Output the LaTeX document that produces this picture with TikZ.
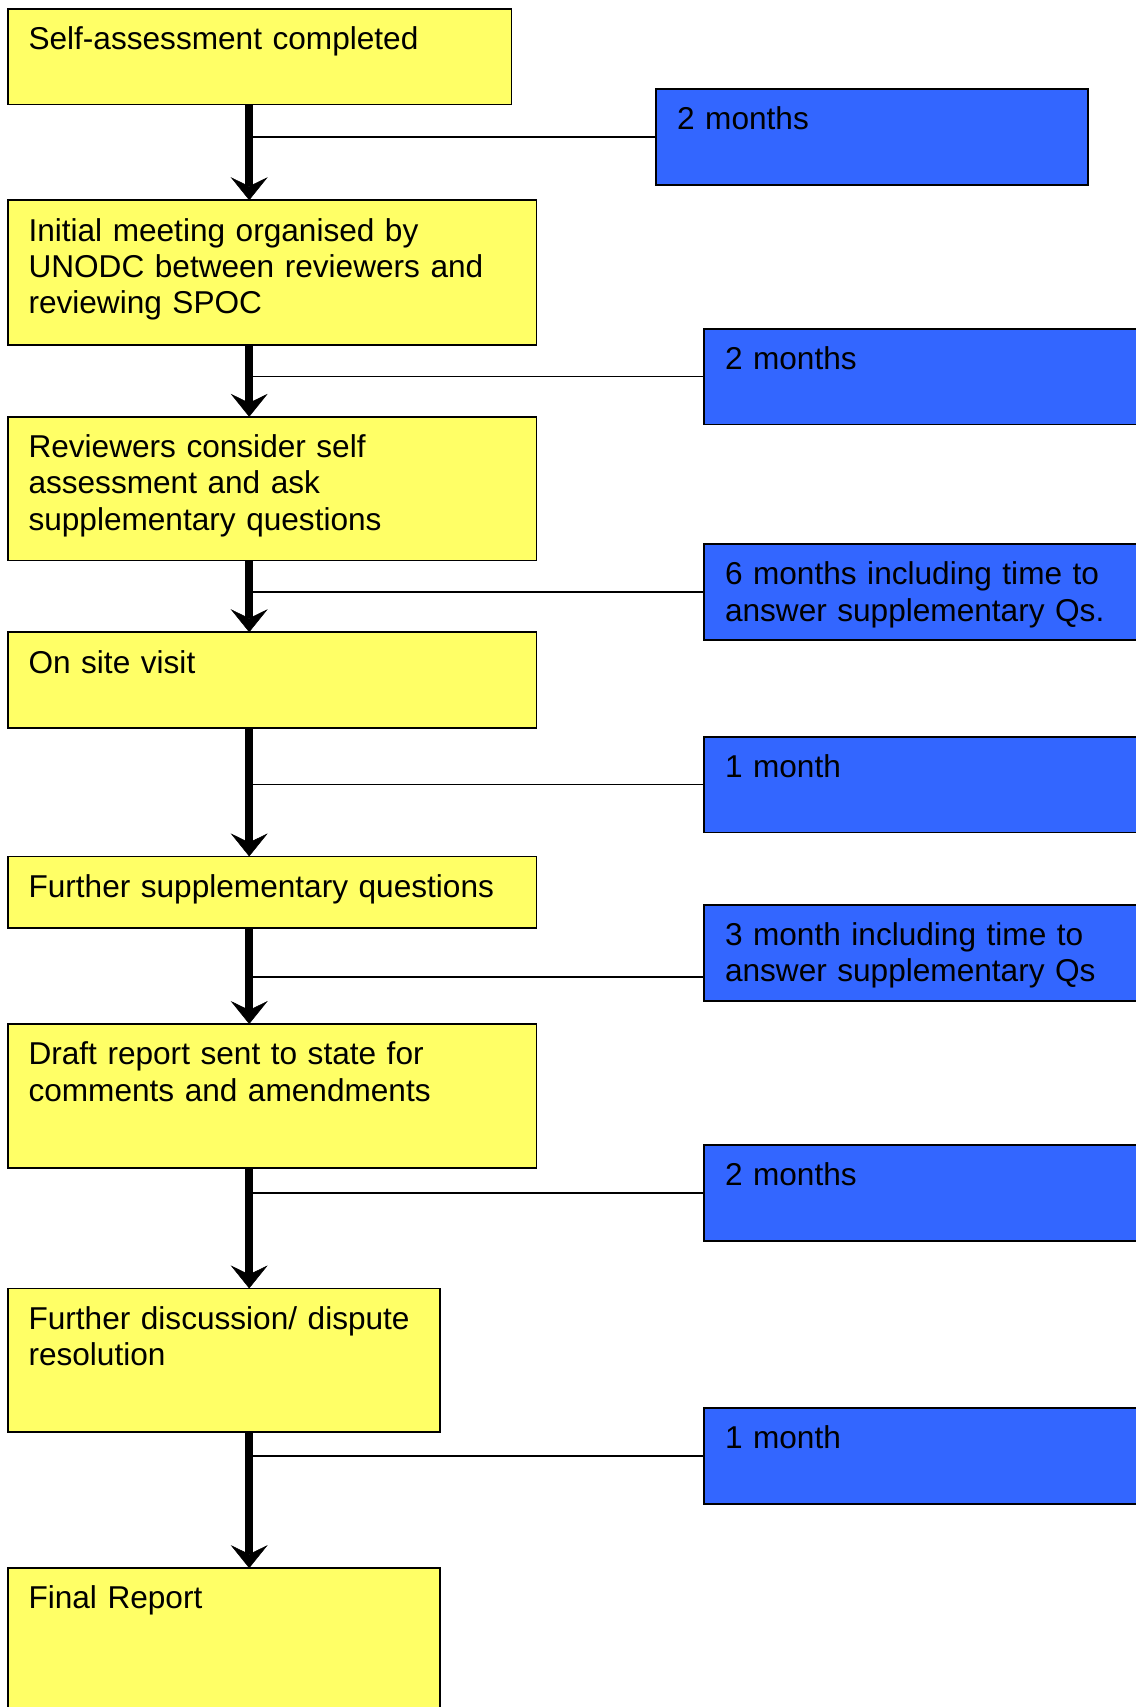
\documentclass[tikz,border=0pt]{standalone}
\usepackage{fontspec}
\setmainfont{Liberation Sans}
\usetikzlibrary{arrows.meta,calc}
\definecolor{boxyellow}{HTML}{FFFF66}
\definecolor{boxblue}{HTML}{3366FF}
\begin{document}
\begin{tikzpicture}[x=1pt,y=-1pt,
 ybox/.style={draw=black, line width=1.8pt, fill=boxyellow, anchor=north west, inner sep=0pt, outer sep=0pt},
 bbox/.style={draw=black, line width=1.8pt, fill=boxblue, anchor=north west, inner sep=0pt, outer sep=0pt, minimum height=95.8pt},
 txt/.style={anchor=base west, inner sep=0pt, text width=700pt, align=left, font=\fontsize{31.6}{36.2}\selectfont},
 flow/.style={line width=7.5pt, -{Stealth[length=23pt,width=37pt,inset=9pt,line width=0.5pt]}},
 tie/.style={line width=1.7pt}]
\useasboundingbox (0,0) rectangle (1135,1707);
% yellow boxes
\node[ybox, minimum width=503.9pt, minimum height=95.8pt] (b1) at (7.6,8.7) {};
\node[ybox, minimum width=528.9pt, minimum height=144.8pt] (b2) at (7.6,200.2) {};
\node[ybox, minimum width=528.9pt, minimum height=143.6pt] (b3) at (7.6,416.8) {};
\node[ybox, minimum width=528.9pt, minimum height=95.8pt] (b4) at (7.6,632.2) {};
\node[ybox, minimum width=528.9pt, minimum height=71.8pt] (b5) at (7.6,856.4) {};
\node[ybox, minimum width=528.9pt, minimum height=143.6pt] (b6) at (7.6,1024.0) {};
\node[ybox, minimum width=432.0pt, minimum height=143.6pt] (b7) at (7.6,1288.4) {};
\node[ybox, minimum width=432.0pt, minimum height=200pt] (b8) at (7.6,1568.1) {};
% blue boxes
\node[bbox, minimum width=432.0pt] (k1) at (656.2,89.2) {};
\node[bbox, minimum width=500pt] (k2) at (704.1,328.6) {};
\node[bbox, minimum width=500pt] (k3) at (704.1,544.1) {};
\node[bbox, minimum width=500pt] (k4) at (704.1,736.7) {};
\node[bbox, minimum width=500pt] (k5) at (704.1,904.8) {};
\node[bbox, minimum width=500pt] (k6) at (704.1,1144.8) {};
\node[bbox, minimum width=500pt] (k7) at (704.1,1408.1) {};
% texts
\node[txt] (tb1) at ($(b1.north west)+(20.7,40.8)$) {Self-assessment completed};
\node[txt] (tb2) at ($(b2.north west)+(20.7,40.8)$) {Initial meeting organised by\\UNODC between reviewers and\\reviewing SPOC};
\node[txt] (tb3) at ($(b3.north west)+(20.7,40.8)$) {Reviewers consider self\\assessment and ask\\supplementary questions};
\node[txt] (tb4) at ($(b4.north west)+(20.7,40.8)$) {On site visit};
\node[txt] (tb5) at ($(b5.north west)+(20.7,40.8)$) {Further supplementary questions};
\node[txt] (tb6) at ($(b6.north west)+(20.7,40.8)$) {Draft report sent to state for\\comments and amendments};
\node[txt] (tb7) at ($(b7.north west)+(20.7,40.8)$) {Further discussion/ dispute\\resolution};
\node[txt] (tb8) at ($(b8.north west)+(20.7,40.8)$) {Final Report};
\node[txt] (tk1) at ($(k1.north west)+(20.7,40.8)$) {2 months};
\node[txt] (tk2) at ($(k2.north west)+(20.7,40.8)$) {2 months};
\node[txt] (tk3) at ($(k3.north west)+(20.7,40.8)$) {6 months including time to\\answer supplementary Qs.};
\node[txt] (tk4) at ($(k4.north west)+(20.7,40.8)$) {1 month};
\node[txt] (tk5) at ($(k5.north west)+(20.7,40.8)$) {3 month including time to\\answer supplementary Qs};
\node[txt] (tk6) at ($(k6.north west)+(20.7,40.8)$) {2 months};
\node[txt] (tk7) at ($(k7.north west)+(20.7,40.8)$) {1 month};
% arrows
\coordinate (ax) at (249.2,0);
\foreach \a/\b in {b1/b2,b2/b3,b3/b4,b4/b5,b5/b6,b6/b7,b7/b8}{
  \draw[flow] (\a.south -| ax) -- (\b.north -| ax);
}
% ties
\foreach \k in {k1,k2,k3,k4,k6,k7}{
  \coordinate (j\k) at (ax |- \k.west);
  \draw[tie] (j\k) -- (\k.west);
}
\coordinate (jk5) at (249.2,976.7);
\draw[tie] (jk5) -- (jk5 -| k5.west);
\end{tikzpicture}
\end{document}
